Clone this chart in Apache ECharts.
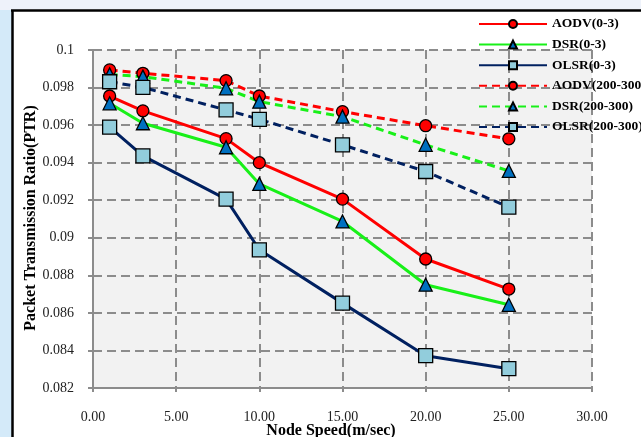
<!DOCTYPE html>
<html>
<head>
<meta charset="utf-8">
<script src="https://cdn.jsdelivr.net/npm/echarts@6/dist/echarts.min.js"></script>
<style>
html,body{margin:0;padding:0;width:641px;height:437px;overflow:hidden;background:#fff;}
#c{width:641px;height:437px;}
</style>
</head>
<body>
<div id="c"></div>
<script>
// Data
const speeds = [1, 3, 8, 10, 15, 20, 25];
const aodv03 = [0.09755, 0.09676, 0.09528, 0.0940, 0.09206, 0.08887, 0.08727];
const dsr03 = [0.09716, 0.09610, 0.09482, 0.09287, 0.09087, 0.08750, 0.08643];
const olsr03 = [0.09589, 0.09436, 0.09206, 0.08936, 0.08652, 0.08372, 0.08303];
const aodv200 = [0.09894, 0.09876, 0.09837, 0.09755, 0.09672, 0.09597, 0.09527];
const dsr200 = [0.09870, 0.09858, 0.09796, 0.09725, 0.09645, 0.09495, 0.09356];
const olsr200 = [0.09831, 0.09801, 0.09681, 0.09631, 0.09495, 0.09353, 0.09163];
const seriesNames = ['AODV(0-3)', 'DSR(0-3)', 'OLSR(0-3)', 'AODV(200-300)', 'DSR(200-300)', 'OLSR(200-300)'];
const xAxisName = 'Node Speed(m/sec)';
const yAxisName = 'Packet Transmission Ratio(PTR)';

const pair = arr => speeds.map((s, i) => [s, arr[i]]);
const FONT = '"Liberation Serif", "Times New Roman", serif';
const RED = '#ff0000', GREEN = '#18f018', NAVY = '#002060';
const TRI = '#0070c0', SQ = '#92cddc';

function mk(name, data, color, dashed, symbol, size, fill) {
  return {
    name: name,
    type: 'line',
    data: pair(data),
    symbol: symbol,
    symbolSize: size,
    showAllSymbol: true,
    lineStyle: { color: color, width: 3, type: dashed ? [8, 5] : 'solid' },
    itemStyle: { color: fill, borderColor: '#000', borderWidth: 1.3 },
    emphasis: { disabled: true },
    animation: false
  };
}

const chart = echarts.init(document.getElementById('c'), null, { renderer: 'canvas' });
chart.setOption({
  animation: false,
  backgroundColor: '#ffffff',
  grid: {
    left: 93, right: 49, top: 50, bottom: 49,
    show: true, backgroundColor: '#f2f2f2', borderWidth: 0
  },
  graphic: [
    { type: 'rect', z: -10, shape: { x: 0, y: 0, width: 12, height: 437 }, style: { fill: '#d4eaf9' } },
    { type: 'rect', z: -10, shape: { x: 0, y: 0, width: 641, height: 10 }, style: { fill: '#eef2fa' } },
    { type: 'line', z: 100, shape: { x1: 12.5, y1: 10, x2: 12.5, y2: 437 }, style: { stroke: '#000', lineWidth: 2.5 } },
    { type: 'line', z: 100, shape: { x1: 11, y1: 10.5, x2: 641, y2: 10.5 }, style: { stroke: '#000', lineWidth: 2.5 } },
    { type: 'text', x: 31, y: 218, rotation: Math.PI / 2,
      style: { text: yAxisName, font: 'bold 16px ' + FONT, fill: '#000', align: 'center', verticalAlign: 'middle' } },
    { type: 'text', x: 331, y: 431,
      style: { text: xAxisName, font: 'bold 16px ' + FONT, fill: '#000', align: 'center', verticalAlign: 'middle' } }
  ],
  legend: {
    orient: 'vertical',
    left: 478, top: 17, padding: 0,
    itemWidth: 68, itemHeight: 10, itemGap: 6.6,
    textStyle: { fontFamily: FONT, fontWeight: 'bold', fontSize: 13.5, color: '#000', lineHeight: 14 },
    data: seriesNames
  },
  xAxis: {
    type: 'value', min: 0, max: 30, interval: 5,
    axisLine: { show: true, onZero: false, lineStyle: { color: '#8c8c8c', width: 2 } },
    axisTick: { show: true, length: 4, lineStyle: { color: '#8c8c8c', width: 2 } },
    axisLabel: { margin: 22, fontFamily: FONT, fontSize: 14, color: '#222', formatter: v => v.toFixed(2) },
    splitLine: { show: true, lineStyle: { color: '#8c8c8c', width: 2, type: [9, 5] } }
  },
  yAxis: {
    type: 'value', min: 0.082, max: 0.1, interval: 0.002,
    axisLine: { show: true, lineStyle: { color: '#8c8c8c', width: 2 } },
    axisTick: { show: true, length: 5, lineStyle: { color: '#8c8c8c', width: 2 } },
    axisLabel: { margin: 19, fontFamily: FONT, fontSize: 14, color: '#222', formatter: v => String(+v.toFixed(3)) },
    splitLine: { show: true, lineStyle: { color: '#8c8c8c', width: 2, type: [9, 5] } }
  },
  series: [
    mk(seriesNames[0], aodv03, RED, false, 'circle', 12, RED),
    mk(seriesNames[1], dsr03, GREEN, false, 'triangle', 13, TRI),
    mk(seriesNames[2], olsr03, NAVY, false, 'rect', 14, SQ),
    mk(seriesNames[3], aodv200, RED, true, 'circle', 12, RED),
    mk(seriesNames[4], dsr200, GREEN, true, 'triangle', 13, TRI),
    mk(seriesNames[5], olsr200, NAVY, true, 'rect', 14, SQ)
  ]
});
</script>
</body>
</html>
